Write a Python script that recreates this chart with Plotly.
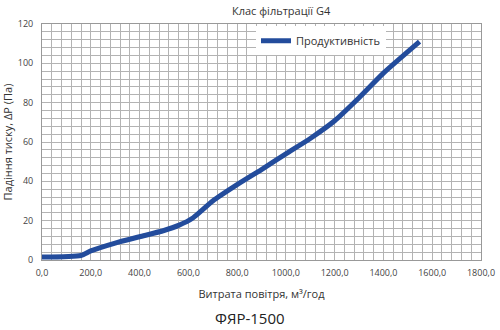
import plotly.graph_objects as go

flow = [0, 160, 200, 300, 400, 500, 560, 620, 700, 800, 900, 1000, 1100, 1200, 1300, 1400, 1548]
pressure = [1.5, 2.3, 4.6, 8.6, 11.8, 15.0, 17.6, 21.5, 30.0, 38.3, 46.0, 54.0, 61.8, 70.8, 82.5, 95.0, 111.0]
series_name = "Продуктивність"

x_ticks = [0, 200, 400, 600, 800, 1000, 1200, 1400, 1600, 1800]
x_tick_labels = ["0,0", "200,0", "400,0", "600,0", "800,0", "1000,0", "1200,0", "1400,0", "1600,0", "1800,0"]
y_ticks = [0, 20, 40, 60, 80, 100, 120]

FONT = "Open Sans"
fig = go.Figure()
fig.add_trace(go.Scatter(
    x=flow, y=pressure, mode="lines", name=series_name,
    line=dict(color="#234c9c", width=5, shape="spline", smoothing=0.6),
))

fig.update_layout(
    width=500, height=330,
    margin=dict(l=42, r=19, t=24, b=70),
    paper_bgcolor="white", plot_bgcolor="white",
    font=dict(family=FONT, color="#333", size=10),
    showlegend=True,
    legend=dict(x=(256 - 42) / 439, y=0.99, xanchor="left", yanchor="top",
                bgcolor="white", font=dict(size=11, color="#333"),
                itemwidth=30),
    xaxis=dict(range=[0, 1800], tickvals=x_ticks, ticktext=x_tick_labels, automargin=False,
               showgrid=False, zeroline=False, showline=True, mirror=True,
               linecolor="#999", linewidth=1, ticks="outside", ticklen=4, tickcolor="rgba(0,0,0,0)",
               tickfont=dict(size=9, color="#444"),
               title=dict(text="Витрата повітря, м³/год", font=dict(size=11, color="#333"), standoff=12)),
    yaxis=dict(range=[0, 120], tickvals=y_ticks, automargin=False,
               showgrid=False, zeroline=False, showline=True, mirror=True,
               linecolor="#999", linewidth=1, ticks="outside", ticklen=6, tickcolor="rgba(0,0,0,0)",
               tickfont=dict(size=9, color="#444"),
               title=dict(text="Падіння тиску, ΔP (Па)", font=dict(size=11, color="#333"), standoff=8)),
)

# minor grid
fig.update_xaxes(minor=dict(dtick=40, tick0=0, showgrid=True, gridcolor="#b3b3b3", gridwidth=1))
fig.update_yaxes(minor=dict(dtick=4, tick0=0, showgrid=True, gridcolor="#b3b3b3", gridwidth=1))

fig.add_annotation(text="Клас фільтрації G4", xref="paper", yref="paper",
                   x=(281 - 42) / 439, y=1.0, yshift=4, yanchor="bottom", showarrow=False,
                   font=dict(size=11, color="#333", family=FONT))
fig.add_annotation(text="ФЯР-1500", xref="paper", yref="paper",
                   x=(250 - 42) / 439, y=-(317 - 259.5) / 235.5, yanchor="middle", showarrow=False,
                   font=dict(size=15, color="#222", family=FONT))

fig.write_html("out.html")
